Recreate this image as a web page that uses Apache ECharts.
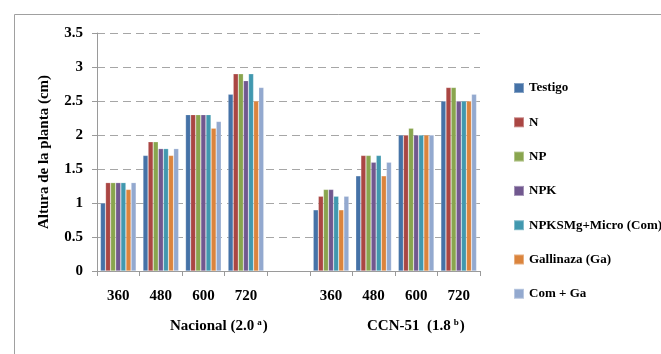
<!DOCTYPE html>
<html>
<head>
<meta charset="utf-8">
<script src="https://cdn.jsdelivr.net/npm/echarts@6/dist/echarts.min.js"></script>
<style>
  html, body { margin: 0; padding: 0; background: #fff; }
  #chart { width: 661px; height: 354px; }
</style>
</head>
<body>
<div id="chart"></div>
<script>
// Plant height (cm) by planting density, for two cacao varieties
var categories = ['360', '480', '600', '720', '', '360', '480', '600', '720'];
var groupLabels = ['Nacional', 'CCN-51'];
var yTicks = [0, 0.5, 1, 1.5, 2, 2.5, 3, 3.5];

var seriesNames = ['Testigo', 'N', 'NP', 'NPK', 'NPKSMg+Micro (Com)', 'Gallinaza (Ga)', 'Com + Ga'];
var seriesColors = ['#4572A7', '#AA4643', '#89A54E', '#71588F', '#4198AF', '#DB843D', '#93A9CF'];

// values per treatment: Nacional 360..720, gap, CCN-51 360..720
var testigo = [1.0, 1.7, 2.3, 2.6, '-', 0.9, 1.4, 2.0, 2.5];
var n       = [1.3, 1.9, 2.3, 2.9, '-', 1.1, 1.7, 2.0, 2.7];
var np      = [1.3, 1.9, 2.3, 2.9, '-', 1.2, 1.7, 2.1, 2.7];
var npk     = [1.3, 1.8, 2.3, 2.8, '-', 1.2, 1.6, 2.0, 2.5];
var npksmg  = [1.3, 1.8, 2.3, 2.9, '-', 1.1, 1.7, 2.0, 2.5];
var galli   = [1.2, 1.7, 2.1, 2.5, '-', 0.9, 1.4, 2.0, 2.5];
var comGa   = [1.3, 1.8, 2.2, 2.7, '-', 1.1, 1.6, 2.0, 2.6];

var seriesValues = [testigo, n, np, npk, npksmg, galli, comGa];

var FONT = '"Liberation Serif", "DejaVu Serif Condensed", serif';

var chart = echarts.init(document.getElementById('chart'), null, { renderer: 'canvas' });

var series = seriesNames.map(function (name, i) {
  return {
    name: name,
    type: 'bar',
    data: seriesValues[i],
    barGap: '0%',
    barCategoryGap: '16%',
    itemStyle: {
      color: seriesColors[i],
      borderColor: 'rgba(255,255,255,0.35)',
      borderWidth: 0.6
    }
  };
});

var supRich = {
  b: { fontFamily: FONT, fontWeight: 'bold', fontSize: 15, fill: '#000', verticalAlign: 'bottom' },
  s: { fontFamily: FONT, fontWeight: 'bold', fontSize: 9, fill: '#000', verticalAlign: 'top', padding: [0, 1, 7, 3] }
};

chart.setOption({
  animation: false,
  backgroundColor: '#ffffff',
  textStyle: { fontFamily: FONT },
  grid: { left: 97, right: 181, top: 33, bottom: 83, containLabel: false },
  legend: {
    orient: 'vertical',
    left: 508,
    top: 76,
    itemWidth: 10,
    itemHeight: 10,
    itemGap: 20.3,
    icon: 'rect',
    data: seriesNames,
    textStyle: { fontFamily: FONT, fontWeight: 'bold', fontSize: 13, lineHeight: 14, color: '#000' }
  },
  xAxis: {
    type: 'category',
    data: categories,
    axisLine: { lineStyle: { color: '#9a9a9a', width: 1 } },
    axisTick: { show: true, length: 5, lineStyle: { color: '#9a9a9a' } },
    axisLabel: {
      interval: 0,
      margin: 18,
      fontFamily: FONT,
      fontWeight: 'bold',
      fontSize: 15,
      color: '#000'
    },
    splitLine: { show: false }
  },
  yAxis: {
    type: 'value',
    min: yTicks[0],
    max: yTicks[yTicks.length - 1],
    interval: 0.5,
    name: 'Altura de la planta (cm)',
    nameLocation: 'middle',
    nameGap: 45,
    nameRotate: 90,
    nameTextStyle: { fontFamily: FONT, fontWeight: 'bold', fontSize: 15, color: '#000' },
    axisLine: { show: true, lineStyle: { color: '#9a9a9a', width: 1 } },
    axisTick: { show: true, length: 5, lineStyle: { color: '#9a9a9a' } },
    axisLabel: {
      margin: 14,
      fontFamily: FONT,
      fontWeight: 'bold',
      fontSize: 15,
      color: '#000'
    },
    splitLine: {
      show: true,
      lineStyle: { color: '#a6a6a6', type: [8, 5], width: 1.2 }
    }
  },
  graphic: [
    {
      type: 'rect',
      left: 12,
      top: 12,
      shape: { width: 700, height: 400 },
      style: { fill: 'none', stroke: '#a0a0a0', lineWidth: 1 },
      silent: true,
      z: -10
    },
    {
      type: 'text',
      left: 170,
      top: 318,
      style: { text: '{b|' + groupLabels[0] + ' (2.0}{s|a}{b|)}', rich: supRich }
    },
    {
      type: 'text',
      left: 367,
      top: 318,
      style: { text: '{b|' + groupLabels[1] + '  (1.8}{s|b}{b|)}', rich: supRich }
    }
  ],
  series: series
});
</script>
</body>
</html>
